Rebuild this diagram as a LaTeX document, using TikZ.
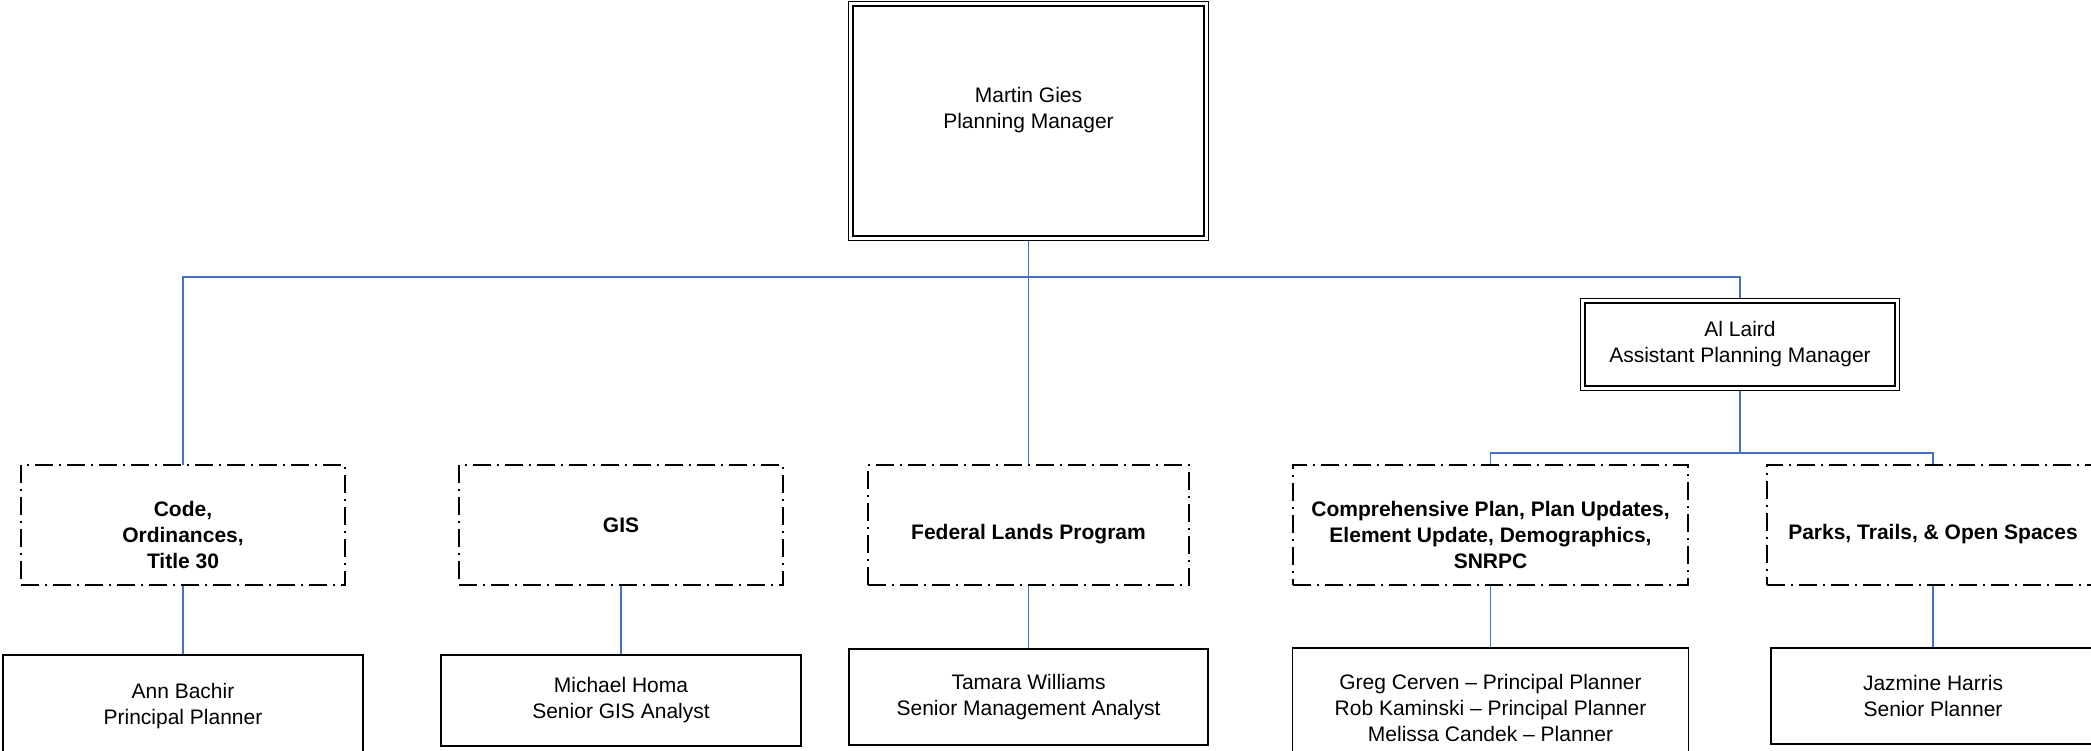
\documentclass[tikz,border=0pt]{standalone}
\usepackage{fontspec}
\setmainfont{Liberation Sans}
\usepackage{xcolor}
\usetikzlibrary{positioning,backgrounds}
\definecolor{linkblue}{RGB}{68,114,196}

\begin{document}
\begin{tikzpicture}[
    node distance=0.6cm,
    font=\fontsize{10.5}{13}\selectfont,
    box/.style={rectangle, draw, line width=0.8pt, outer sep=0pt, align=center, inner sep=2pt},
    head/.style={rectangle, draw, double, line width=0.6pt, double distance=1.6pt, outer sep=0pt, align=center},
    area/.style={rectangle, draw, line width=0.7pt, outer sep=0pt, dash pattern=on 9pt off 3pt on 1pt off 3pt, align=center, minimum height=60pt, font=\fontsize{10.5}{13}\selectfont\bfseries},
    lowered/.style={text height=#1},
    link/.style={draw=linkblue, line width=0.7pt}
]
    \useasboundingbox (0,0) rectangle (1045.5pt,-375pt);

    % Managers
    \node[head, minimum width=177.7pt, minimum height=117.2pt,
          label={[align=center, yshift=5.5pt]center:{Martin Gies\\Planning Manager}}] (mgr) at (514.25pt,-60.5pt) {};
    \node[head, minimum width=157.2pt, minimum height=43.7pt] (asst) at (870pt,-172.25pt) {Al Laird\\Assistant Planning Manager};

    % Program areas
    \node[area, lowered=43.5pt, minimum width=162pt] (code) at (91.5pt,-262.5pt) {Code,\\Ordinances,\\Title 30};
    \node[area, minimum width=162pt, right=57pt of code] (gis) {GIS};
    \node[area, lowered=17pt, minimum width=160.5pt, right=42.5pt of gis] (fed) {Federal Lands Program};
    \node[area, lowered=43.5pt, minimum width=197.5pt, right=52pt of fed] (comp) {Comprehensive Plan, Plan Updates,\\Element Update, Demographics,\\SNRPC};
    \node[area, lowered=17pt, minimum width=166pt, right=39.5pt of comp] (parks) {Parks, Trails, \& Open Spaces};

    % Staff
    \node[box, minimum width=180pt, minimum height=51pt, below=35pt of code] (ann) {Ann Bachir\\Principal Planner};
    \node[box, minimum width=180pt, minimum height=45.5pt, below=35pt of gis] (homa) {Michael Homa\\Senior GIS Analyst};
    \node[box, minimum width=179.5pt, minimum height=48pt, below=32pt of fed] (tam) {Tamara Williams\\Senior Management Analyst};
    \node[box, minimum width=198pt, minimum height=72.5pt, below=31.5pt of comp] (greg) {Greg Cerven -- Principal Planner\\Rob Kaminski -- Principal Planner\\Melissa Candek -- Planner\\~};
    \node[box, minimum width=162pt, minimum height=48pt, below=31.5pt of parks] (jaz) {Jazmine Harris\\Senior Planner};

    % Connections
    \coordinate (bus) at ([yshift=-19.4pt]mgr.south);
    \coordinate (subbus) at ([yshift=-32.4pt]asst.south);
    \begin{scope}[on background layer]
        \draw[link] (mgr.south) -- (fed.north);
        \draw[link] (bus) -| (code.north);
        \draw[link] (bus) -| (asst.north);
        \draw[link] (asst.south) -- (subbus) -| (comp.north);
        \draw[link] (subbus) -| (parks.north);
        \draw[link] (code) -- (ann);
        \draw[link] (gis) -- (homa);
        \draw[link] (fed) -- (tam);
        \draw[link] (comp) -- (greg);
        \draw[link] (parks) -- (jaz);
    \end{scope}
\end{tikzpicture}
\end{document}
